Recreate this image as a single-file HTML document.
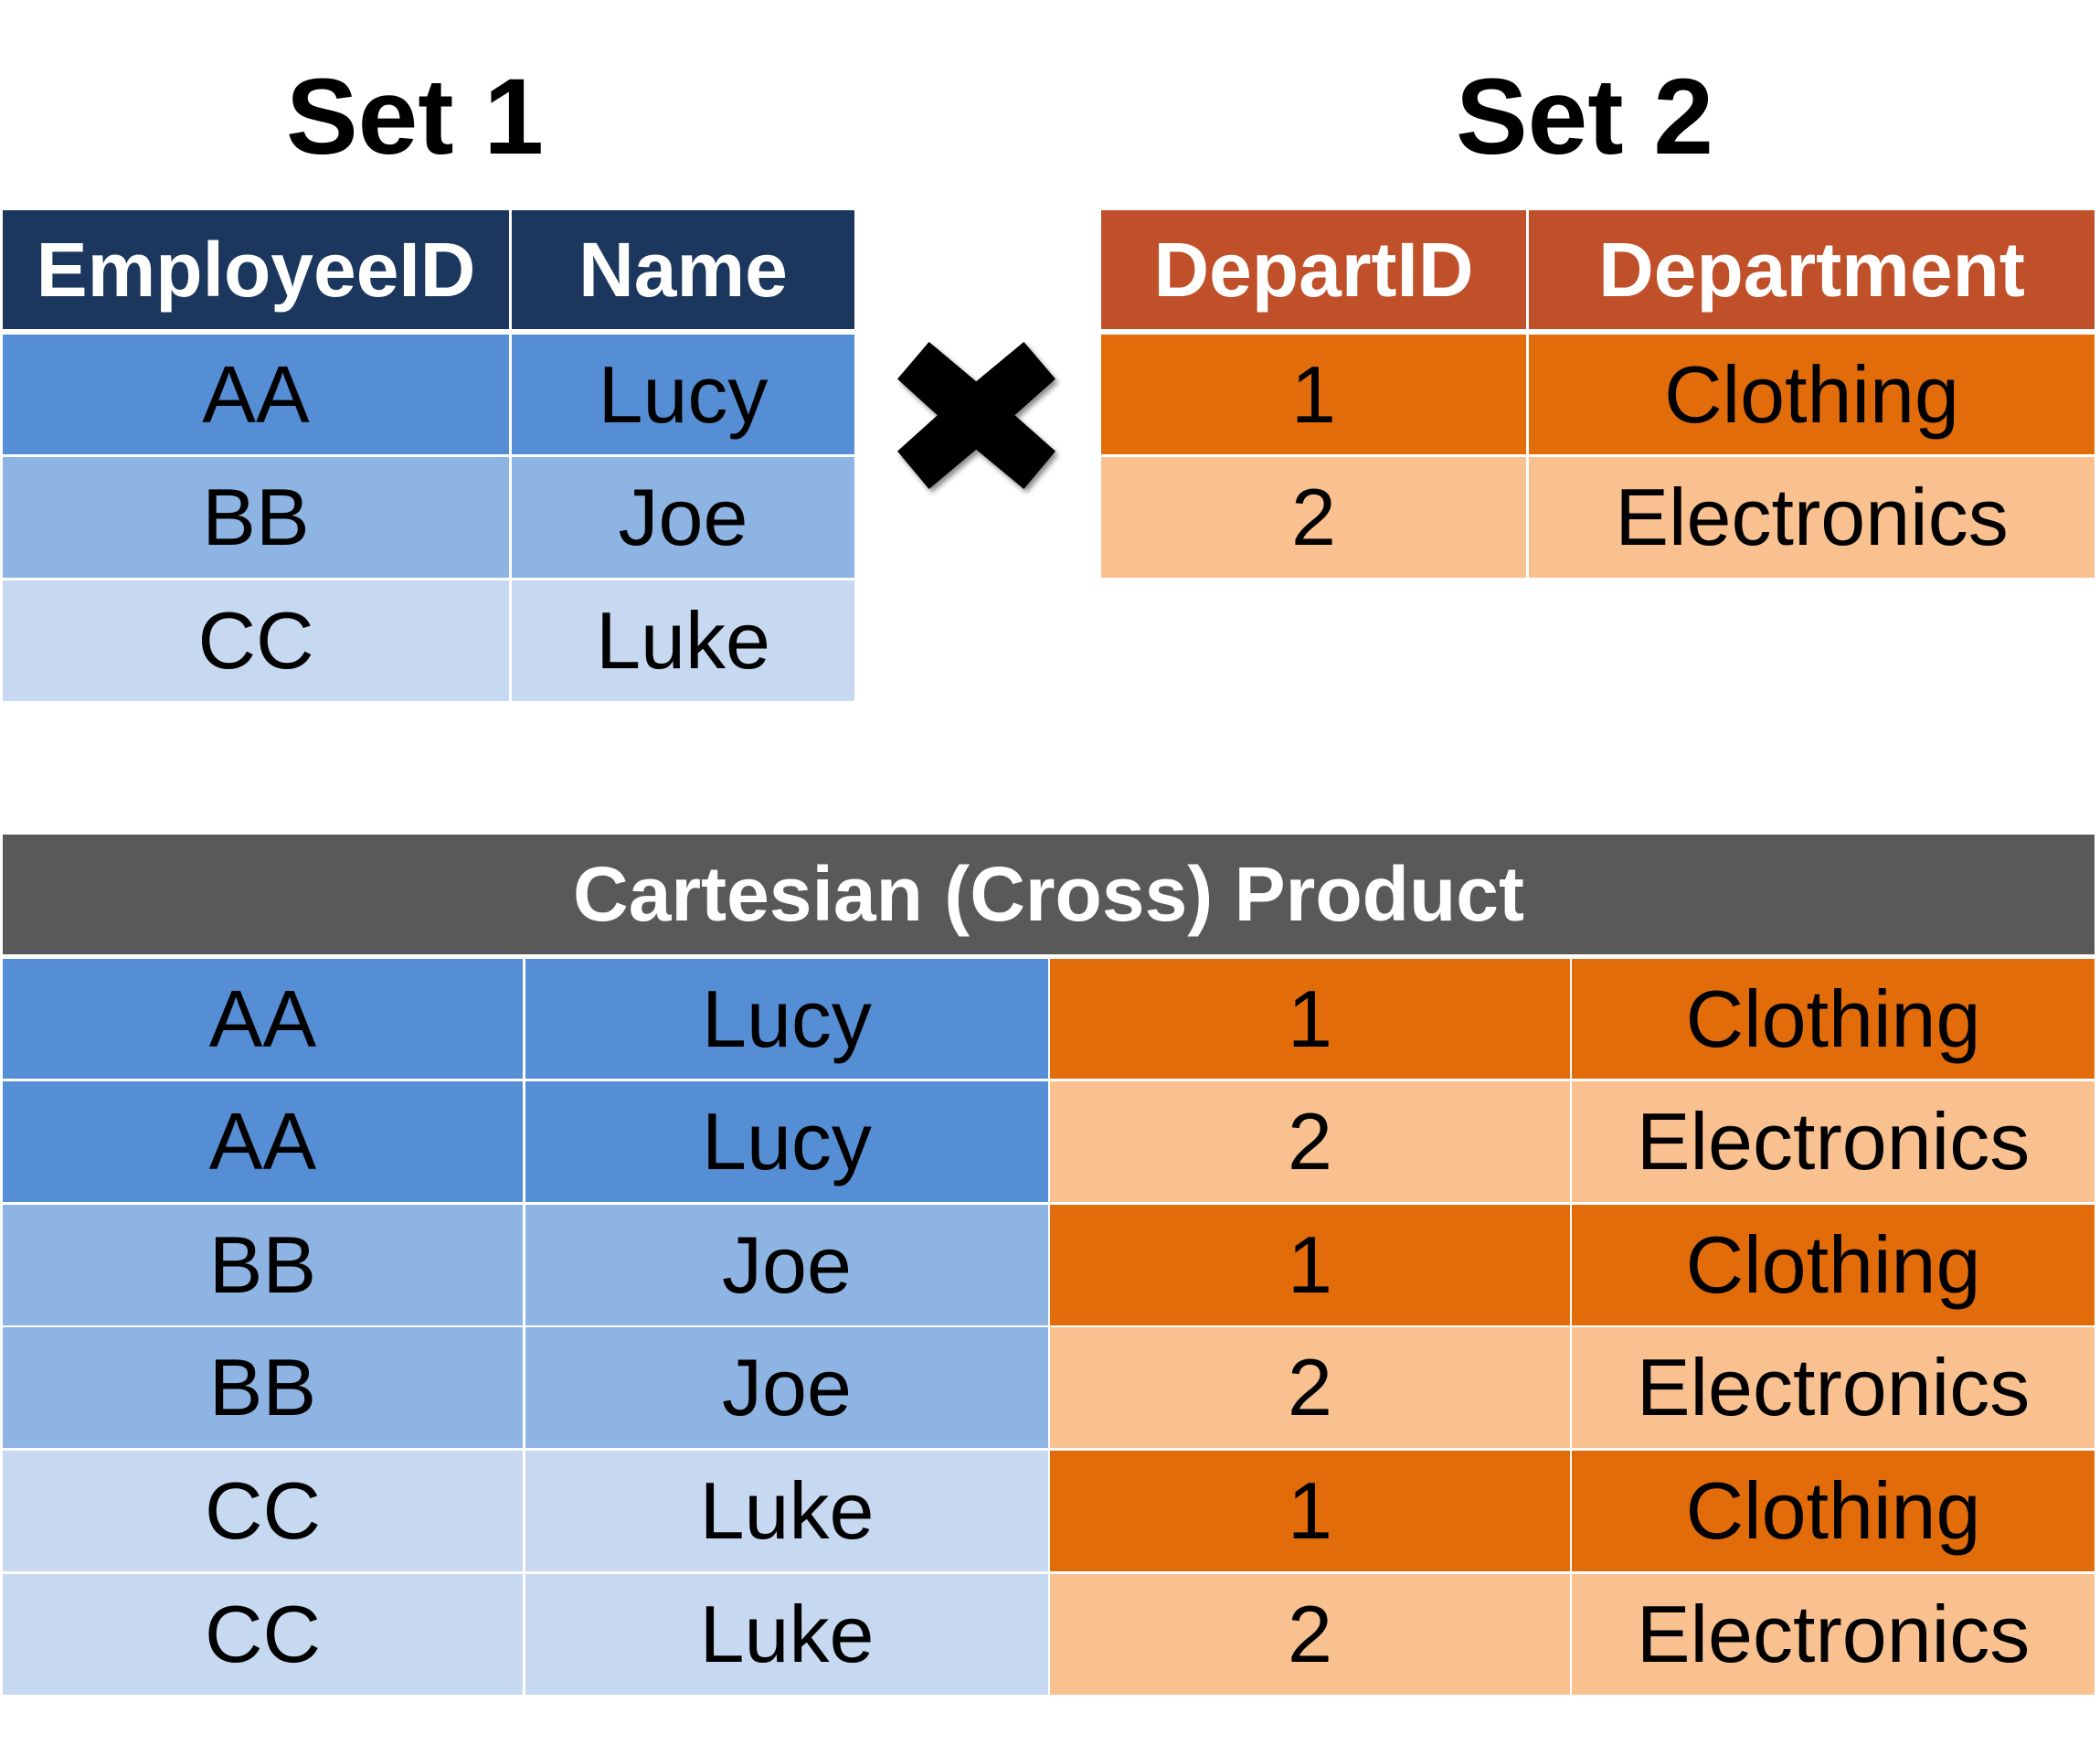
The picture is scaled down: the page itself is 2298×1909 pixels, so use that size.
<!DOCTYPE html>
<html><head><meta charset="utf-8"><style>
html,body{margin:0;padding:0;background:#fff}
body{width:2298px;height:1909px;position:relative;overflow:hidden;font-family:"Liberation Sans",sans-serif}
.c{position:absolute;display:flex;align-items:center;justify-content:center;color:#000;font-size:88px;white-space:nowrap}
.h{color:#fff;font-weight:bold;font-size:84px}
.t{position:absolute;font-weight:bold;font-size:118px;color:#000;text-align:center;width:600px}
</style></head><body>
<div class="t" style="left:154px;top:60px">Set 1</div>
<div class="t" style="left:1434px;top:60px">Set 2</div>

<!-- Set 1 -->
<div class="c h" style="left:3px;top:230px;width:554px;height:130px;background:#1b375e">EmployeeID</div>
<div class="c h" style="left:560px;top:230px;width:375px;height:130px;background:#1b375e">Name</div>
<div class="c" style="left:3px;top:366px;width:554px;height:131px;background:#558ed5">AA</div>
<div class="c" style="left:560px;top:366px;width:375px;height:131px;background:#558ed5">Lucy</div>
<div class="c" style="left:3px;top:500px;width:554px;height:132px;background:#8eb4e3">BB</div>
<div class="c" style="left:560px;top:500px;width:375px;height:132px;background:#8eb4e3">Joe</div>
<div class="c" style="left:3px;top:635px;width:554px;height:132px;background:#c6d9f1">CC</div>
<div class="c" style="left:560px;top:635px;width:375px;height:132px;background:#c6d9f1">Luke</div>

<!-- X -->
<svg style="position:absolute;left:982px;top:374px" width="180" height="170" viewBox="0 0 180 170">
<defs><filter id="s"><feDropShadow dx="3" dy="4" stdDeviation="3" flood-opacity="0.45"/></filter></defs>
<polygon filter="url(#s)" fill="#000" points="34.6,0 86.2,43.3 138.4,0 173,40.6 128.4,80.3 173,119.6 138.4,161 86.2,117.7 34.6,161 0,119.6 43.8,80.3 0,40.6"/>
</svg>

<!-- Set 2 -->
<div class="c h" style="left:1205px;top:230px;width:465px;height:130px;background:#c0502a">DepartID</div>
<div class="c h" style="left:1673px;top:230px;width:619px;height:130px;background:#c0502a">Department</div>
<div class="c" style="left:1205px;top:366px;width:465px;height:131px;background:#e26b0a">1</div>
<div class="c" style="left:1673px;top:366px;width:619px;height:131px;background:#e26b0a">Clothing</div>
<div class="c" style="left:1205px;top:500px;width:465px;height:132px;background:#f9c090">2</div>
<div class="c" style="left:1673px;top:500px;width:619px;height:132px;background:#f9c090">Electronics</div>

<!-- Product -->
<div class="c h" style="left:3px;top:913px;width:2289px;height:131px;background:#595959">Cartesian (Cross) Product</div>

<div class="c" style="left:3px;top:1049px;width:569px;height:131px;background:#558ed5">AA</div>
<div class="c" style="left:575px;top:1049px;width:572px;height:131px;background:#558ed5">Lucy</div>
<div class="c" style="left:1149px;top:1049px;width:569px;height:131px;background:#e26b0a">1</div>
<div class="c" style="left:1720px;top:1049px;width:572px;height:131px;background:#e26b0a">Clothing</div>

<div class="c" style="left:3px;top:1183px;width:569px;height:132px;background:#558ed5">AA</div>
<div class="c" style="left:575px;top:1183px;width:572px;height:132px;background:#558ed5">Lucy</div>
<div class="c" style="left:1149px;top:1183px;width:569px;height:132px;background:#f9c090">2</div>
<div class="c" style="left:1720px;top:1183px;width:572px;height:132px;background:#f9c090">Electronics</div>

<div class="c" style="left:3px;top:1318px;width:569px;height:132px;background:#8eb4e3">BB</div>
<div class="c" style="left:575px;top:1318px;width:572px;height:132px;background:#8eb4e3">Joe</div>
<div class="c" style="left:1149px;top:1318px;width:569px;height:132px;background:#e26b0a">1</div>
<div class="c" style="left:1720px;top:1318px;width:572px;height:132px;background:#e26b0a">Clothing</div>

<div class="c" style="left:3px;top:1452px;width:569px;height:132px;background:#8eb4e3">BB</div>
<div class="c" style="left:575px;top:1452px;width:572px;height:132px;background:#8eb4e3">Joe</div>
<div class="c" style="left:1149px;top:1452px;width:569px;height:132px;background:#f9c090">2</div>
<div class="c" style="left:1720px;top:1452px;width:572px;height:132px;background:#f9c090">Electronics</div>

<div class="c" style="left:3px;top:1587px;width:569px;height:132px;background:#c6d9f1">CC</div>
<div class="c" style="left:575px;top:1587px;width:572px;height:132px;background:#c6d9f1">Luke</div>
<div class="c" style="left:1149px;top:1587px;width:569px;height:132px;background:#e26b0a">1</div>
<div class="c" style="left:1720px;top:1587px;width:572px;height:132px;background:#e26b0a">Clothing</div>

<div class="c" style="left:3px;top:1722px;width:569px;height:132px;background:#c6d9f1">CC</div>
<div class="c" style="left:575px;top:1722px;width:572px;height:132px;background:#c6d9f1">Luke</div>
<div class="c" style="left:1149px;top:1722px;width:569px;height:132px;background:#f9c090">2</div>
<div class="c" style="left:1720px;top:1722px;width:572px;height:132px;background:#f9c090">Electronics</div>
</body></html>
